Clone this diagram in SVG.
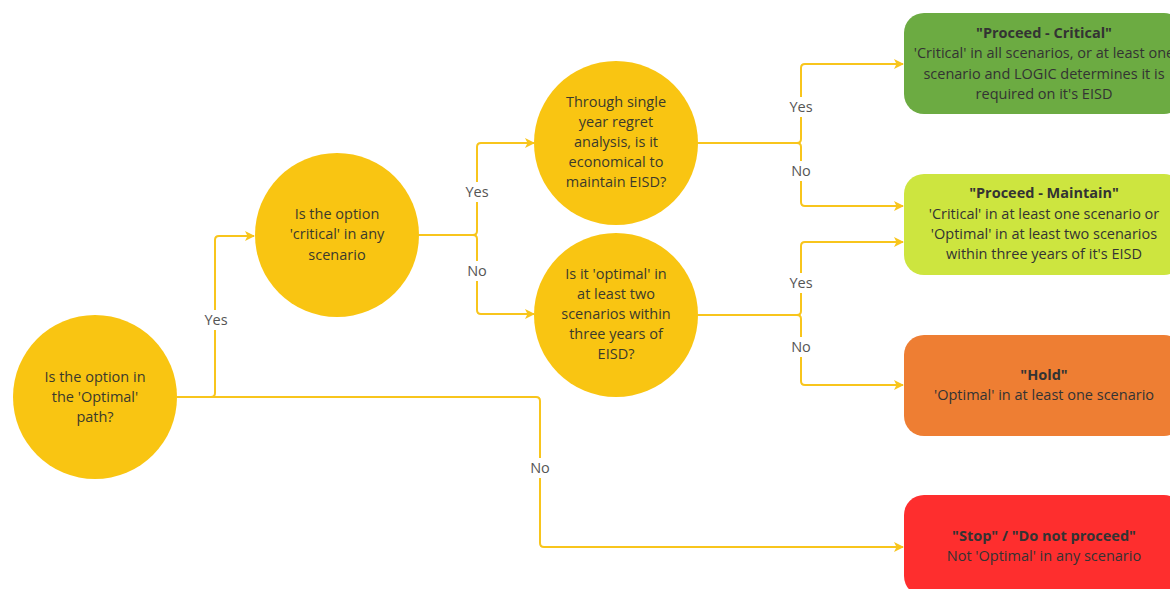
<svg xmlns="http://www.w3.org/2000/svg" width="1170" height="589" viewBox="0 0 1170 589">
<defs>
<marker id="arr" viewBox="0 0 10 10" refX="9" refY="5" markerWidth="10" markerHeight="10" markerUnits="userSpaceOnUse" orient="auto">
<path d="M0,0 L10,5 L0,10 L2.5,5 Z" fill="#F8C51C"/>
</marker>
<style>
.c{fill:#F9C512;}
.t{font-family:"Open Sans","Liberation Sans",sans-serif;font-size:14.5px;fill:#3b3a2c;text-anchor:middle;}
.bt{font-family:"Open Sans","Liberation Sans",sans-serif;font-size:14.5px;fill:#333;text-anchor:middle;}
.b{font-weight:bold;}
.e{fill:none;stroke:#F8C51C;stroke-width:2;}
.l{font-family:"Open Sans","Liberation Sans",sans-serif;font-size:14.5px;fill:#555;text-anchor:middle;}
.lb{fill:#fff;}
</style>
</defs>
<rect width="1170" height="589" fill="#fff"/>
<g id="connectors">
<path class="e" d="M177,397 H211 Q215,397 215,393 V240 Q215,236 219,236 H254" marker-end="url(#arr)"/>
<path class="e" d="M177,397 H536 Q540,397 540,401 V543 Q540,547 544,547 H903" marker-end="url(#arr)"/>
<path class="e" d="M418,235 H473 Q477,235 477,231 V147 Q477,143 481,143 H534" marker-end="url(#arr)"/>
<path class="e" d="M418,235 H473 Q477,235 477,239 V310 Q477,314 481,314 H534" marker-end="url(#arr)"/>
<path class="e" d="M698,143 H797 Q801,143 801,139 V68 Q801,64 805,64 H903" marker-end="url(#arr)"/>
<path class="e" d="M698,143 H797 Q801,143 801,147 V202 Q801,206 805,206 H903" marker-end="url(#arr)"/>
<path class="e" d="M698,315 H797 Q801,315 801,311 V246 Q801,242 805,242 H903" marker-end="url(#arr)"/>
<path class="e" d="M698,315 H797 Q801,315 801,319 V381 Q801,385 805,385 H903" marker-end="url(#arr)"/>
<rect class="lb" x="201" y="310" width="30" height="20"/>
<text class="l" x="216" y="325">Yes</text>
<rect class="lb" x="528" y="458" width="25" height="20"/>
<text class="l" x="540" y="473">No</text>
<rect class="lb" x="462" y="182" width="30" height="20"/>
<text class="l" x="477" y="197">Yes</text>
<rect class="lb" x="465" y="261" width="25" height="20"/>
<text class="l" x="477" y="276">No</text>
<rect class="lb" x="786" y="97" width="30" height="20"/>
<text class="l" x="801" y="112">Yes</text>
<rect class="lb" x="789" y="161" width="25" height="20"/>
<text class="l" x="801" y="176">No</text>
<rect class="lb" x="786" y="273" width="30" height="20"/>
<text class="l" x="801" y="288">Yes</text>
<rect class="lb" x="789" y="337" width="25" height="20"/>
<text class="l" x="801" y="352">No</text>
</g>
<g id="q1">
<circle class="c" cx="95" cy="397" r="82"/>
<text class="t" x="95" y="382">Is the option in</text>
<text class="t" x="95" y="402">the 'Optimal'</text>
<text class="t" x="95" y="422">path?</text>
</g>
<g id="q2">
<circle class="c" cx="337" cy="235" r="82"/>
<text class="t" x="337" y="219">Is the option</text>
<text class="t" x="337" y="239">'critical' in any</text>
<text class="t" x="337" y="260">scenario</text>
</g>
<g id="q3">
<circle class="c" cx="616" cy="143" r="82"/>
<text class="t" x="616" y="107">Through single</text>
<text class="t" x="616" y="127">year regret</text>
<text class="t" x="616" y="147">analysis, is it</text>
<text class="t" x="616" y="167">economical to</text>
<text class="t" x="616" y="187">maintain EISD?</text>
</g>
<g id="q4">
<circle class="c" cx="616" cy="315" r="82"/>
<text class="t" x="616" y="279">Is it 'optimal' in</text>
<text class="t" x="616" y="299">at least two</text>
<text class="t" x="616" y="319">scenarios within</text>
<text class="t" x="616" y="339">three years of</text>
<text class="t" x="616" y="359">EISD?</text>
</g>
<g id="critical">
<rect x="904" y="13" width="280" height="101" rx="20" fill="#6CAB42"/>
<text class="bt b" x="1044" y="38">"Proceed - Critical"</text>
<text class="bt" x="1044" y="58">'Critical' in all scenarios, or at least one</text>
<text class="bt" x="1044" y="79">scenario and LOGIC determines it is</text>
<text class="bt" x="1044" y="99">required on it's EISD</text>
</g>
<g id="maintain">
<rect x="904" y="174" width="280" height="101" rx="20" fill="#CDE53F"/>
<text class="bt b" x="1044" y="198">"Proceed - Maintain"</text>
<text class="bt" x="1044" y="219">'Critical' in at least one scenario or</text>
<text class="bt" x="1044" y="239">'Optimal' in at least two scenarios</text>
<text class="bt" x="1044" y="259">within three years of it's EISD</text>
</g>
<g id="hold">
<rect x="904" y="335" width="280" height="101" rx="20" fill="#EE7E33"/>
<text class="bt b" x="1044" y="380">"Hold"</text>
<text class="bt" x="1044" y="400">'Optimal' in at least one scenario</text>
</g>
<g id="stop">
<rect x="904" y="495" width="280" height="101" rx="20" fill="#FE2E2E"/>
<text class="bt b" x="1044" y="541">"Stop" / "Do not proceed"</text>
<text class="bt" x="1044" y="561">Not 'Optimal' in any scenario</text>
</g>
</svg>
